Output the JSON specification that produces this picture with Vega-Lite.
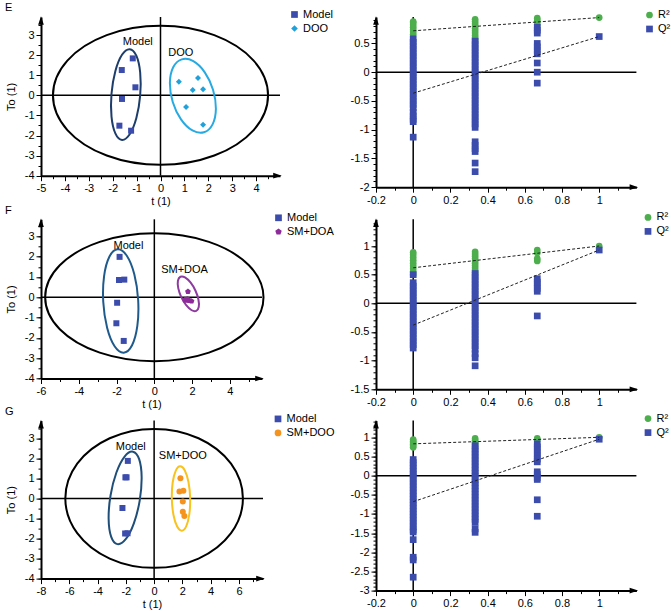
{
"$schema": "https://vega.github.io/schema/vega-lite/v6.json",
"padding": {"left": 5, "top": 2, "right": 0, "bottom": 0},
"config": {
 "font": "Liberation Sans",
 "view": {"stroke": null},
 "axis": {"domainColor": "#000", "domainWidth": 2, "tickColor": "#000", "tickWidth": 1, "labelColor": "#000", "labelFontSize": 11, "titleFontSize": 11, "titleFontWeight": "normal", "titleColor": "#000", "grid": false, "labelPadding": 2, "labelOverlap": false, "labelFlush": false, "labelBound": false},
 "axisX": {"titlePadding": 2},
 "axisY": {"titlePadding": 8},
 "title": {"fontSize": 11, "fontWeight": "normal", "anchor": "start", "frame": "group", "dx": -36, "dy": 8, "offset": 4, "color": "#000"}
},
"datasets": {
 "ePts": [
  {"x": -1.16, "y": 1.84, "g": "Model"}, {"x": -1.62, "y": 1.26, "g": "Model"}, {"x": -1.05, "y": 0.40, "g": "Model"}, {"x": -1.61, "y": -0.18, "g": "Model"}, {"x": -1.72, "y": -1.51, "g": "Model"}, {"x": -1.23, "y": -1.76, "g": "Model"},
  {"x": 0.77, "y": 0.68, "g": "DOO"}, {"x": 1.57, "y": 0.86, "g": "DOO"}, {"x": 1.35, "y": 0.26, "g": "DOO"}, {"x": 1.78, "y": 0.30, "g": "DOO"}, {"x": 1.07, "y": -0.58, "g": "DOO"}, {"x": 1.78, "y": -1.46, "g": "DOO"}
 ],
 "eEll": [
  {"e": "outer", "i": 0, "x": 4.5, "y": 0}, {"e": "outer", "i": 1, "x": 3.897, "y": 1.73}, {"e": "outer", "i": 2, "x": 2.25, "y": 2.996}, {"e": "outer", "i": 3, "x": 0, "y": 3.46}, {"e": "outer", "i": 4, "x": -2.25, "y": 2.996}, {"e": "outer", "i": 5, "x": -3.897, "y": 1.73}, {"e": "outer", "i": 6, "x": -4.5, "y": 0}, {"e": "outer", "i": 7, "x": -3.897, "y": -1.73}, {"e": "outer", "i": 8, "x": -2.25, "y": -2.996}, {"e": "outer", "i": 9, "x": 0, "y": -3.46}, {"e": "outer", "i": 10, "x": 2.25, "y": -2.996}, {"e": "outer", "i": 11, "x": 3.897, "y": -1.73},
  {"e": "Model", "i": 0, "x": -1.29, "y": 2.30}, {"e": "Model", "i": 1, "x": -1.011, "y": 1.977}, {"e": "Model", "i": 2, "x": -0.85, "y": 1.135}, {"e": "Model", "i": 3, "x": -0.85, "y": 0.0}, {"e": "Model", "i": 4, "x": -1.01, "y": -1.125}, {"e": "Model", "i": 5, "x": -1.289, "y": -1.937}, {"e": "Model", "i": 6, "x": -1.61, "y": -2.22}, {"e": "Model", "i": 7, "x": -1.889, "y": -1.897}, {"e": "Model", "i": 8, "x": -2.05, "y": -1.055}, {"e": "Model", "i": 9, "x": -2.05, "y": 0.08}, {"e": "Model", "i": 10, "x": -1.89, "y": 1.205}, {"e": "Model", "i": 11, "x": -1.611, "y": 2.017},
  {"e": "DOO", "i": 0, "x": 0.89, "y": 1.79}, {"e": "DOO", "i": 1, "x": 1.374, "y": 1.699}, {"e": "DOO", "i": 2, "x": 1.853, "y": 1.146}, {"e": "DOO", "i": 3, "x": 2.198, "y": 0.279}, {"e": "DOO", "i": 4, "x": 2.318, "y": -0.669}, {"e": "DOO", "i": 5, "x": 2.179, "y": -1.445}, {"e": "DOO", "i": 6, "x": 1.82, "y": -1.84}, {"e": "DOO", "i": 7, "x": 1.336, "y": -1.749}, {"e": "DOO", "i": 8, "x": 0.858, "y": -1.196}, {"e": "DOO", "i": 9, "x": 0.512, "y": -0.329}, {"e": "DOO", "i": 10, "x": 0.393, "y": 0.619}, {"e": "DOO", "i": 11, "x": 0.531, "y": 1.395}
 ],
 "eTxt": [{"x": -0.95, "y": 2.64, "t": "Model"}, {"x": 0.85, "y": 2.12, "t": "DOO"}],
 "fPts": [
  {"x": -1.84, "y": 1.99, "g": "Model"}, {"x": -1.87, "y": 0.85, "g": "Model"}, {"x": -1.59, "y": 0.87, "g": "Model"}, {"x": -1.97, "y": -0.27, "g": "Model"}, {"x": -2.01, "y": -1.28, "g": "Model"}, {"x": -1.62, "y": -2.15, "g": "Model"},
  {"x": 1.78, "y": 0.28, "g": "SM+DOA"}, {"x": 1.62, "y": -0.12, "g": "SM+DOA"}, {"x": 1.75, "y": -0.08, "g": "SM+DOA"}, {"x": 1.70, "y": -0.15, "g": "SM+DOA"}, {"x": 1.85, "y": -0.16, "g": "SM+DOA"}, {"x": 1.97, "y": -0.19, "g": "SM+DOA"}
 ],
 "fEll": [
  {"e": "outer", "i": 0, "x": 5.78, "y": 0}, {"e": "outer", "i": 1, "x": 5.006, "y": 1.575}, {"e": "outer", "i": 2, "x": 2.89, "y": 2.728}, {"e": "outer", "i": 3, "x": 0, "y": 3.15}, {"e": "outer", "i": 4, "x": -2.89, "y": 2.728}, {"e": "outer", "i": 5, "x": -5.006, "y": 1.575}, {"e": "outer", "i": 6, "x": -5.78, "y": 0}, {"e": "outer", "i": 7, "x": -5.006, "y": -1.575}, {"e": "outer", "i": 8, "x": -2.89, "y": -2.728}, {"e": "outer", "i": 9, "x": 0, "y": -3.15}, {"e": "outer", "i": 10, "x": 2.89, "y": -2.728}, {"e": "outer", "i": 11, "x": 5.006, "y": -1.575},
  {"e": "Model", "i": 0, "x": -1.94, "y": 2.36}, {"e": "Model", "i": 1, "x": -1.457, "y": 2.044}, {"e": "Model", "i": 2, "x": -1.06, "y": 1.131}, {"e": "Model", "i": 3, "x": -0.856, "y": -0.135}, {"e": "Model", "i": 4, "x": -0.90, "y": -1.414}, {"e": "Model", "i": 5, "x": -1.179, "y": -2.364}, {"e": "Model", "i": 6, "x": -1.62, "y": -2.73}, {"e": "Model", "i": 7, "x": -2.103, "y": -2.414}, {"e": "Model", "i": 8, "x": -2.50, "y": -1.50}, {"e": "Model", "i": 9, "x": -2.704, "y": -0.235}, {"e": "Model", "i": 10, "x": -2.66, "y": 1.044}, {"e": "Model", "i": 11, "x": -2.381, "y": 1.994},
  {"e": "SM+DOA", "i": 0, "x": 1.38, "y": 1.01}, {"e": "SM+DOA", "i": 1, "x": 1.623, "y": 0.979}, {"e": "SM+DOA", "i": 2, "x": 1.914, "y": 0.731}, {"e": "SM+DOA", "i": 3, "x": 2.174, "y": 0.333}, {"e": "SM+DOA", "i": 4, "x": 2.334, "y": -0.109}, {"e": "SM+DOA", "i": 5, "x": 2.351, "y": -0.476}, {"e": "SM+DOA", "i": 6, "x": 2.22, "y": -0.67}, {"e": "SM+DOA", "i": 7, "x": 1.977, "y": -0.639}, {"e": "SM+DOA", "i": 8, "x": 1.686, "y": -0.391}, {"e": "SM+DOA", "i": 9, "x": 1.426, "y": 0.007}, {"e": "SM+DOA", "i": 10, "x": 1.266, "y": 0.449}, {"e": "SM+DOA", "i": 11, "x": 1.249, "y": 0.816}
 ],
 "fTxt": [{"x": -1.37, "y": 2.53, "t": "Model"}, {"x": 1.60, "y": 1.34, "t": "SM+DOA"}],
 "gPts": [
  {"x": -1.86, "y": 1.87, "g": "Model"}, {"x": -2.03, "y": 1.05, "g": "Model"}, {"x": -1.95, "y": 1.05, "g": "Model"}, {"x": -2.24, "y": -0.48, "g": "Model"}, {"x": -2.05, "y": -1.75, "g": "Model"}, {"x": -1.88, "y": -1.74, "g": "Model"},
  {"x": 1.86, "y": 1.00, "g": "SM+DOO"}, {"x": 1.79, "y": 0.35, "g": "SM+DOO"}, {"x": 2.07, "y": 0.38, "g": "SM+DOO"}, {"x": 2.03, "y": -0.16, "g": "SM+DOO"}, {"x": 2.03, "y": -0.66, "g": "SM+DOO"}, {"x": 2.14, "y": -0.88, "g": "SM+DOO"}
 ],
 "gEll": [
  {"e": "outer", "i": 0, "x": 6.28, "y": 0}, {"e": "outer", "i": 1, "x": 5.439, "y": 1.733}, {"e": "outer", "i": 2, "x": 3.14, "y": 3.001}, {"e": "outer", "i": 3, "x": 0, "y": 3.465}, {"e": "outer", "i": 4, "x": -3.14, "y": 3.001}, {"e": "outer", "i": 5, "x": -5.439, "y": 1.733}, {"e": "outer", "i": 6, "x": -6.28, "y": 0}, {"e": "outer", "i": 7, "x": -5.439, "y": -1.733}, {"e": "outer", "i": 8, "x": -3.14, "y": -3.001}, {"e": "outer", "i": 9, "x": 0, "y": -3.465}, {"e": "outer", "i": 10, "x": 3.14, "y": -3.001}, {"e": "outer", "i": 11, "x": 5.439, "y": -1.733},
  {"e": "Model", "i": 0, "x": -1.50, "y": 2.33}, {"e": "Model", "i": 1, "x": -1.059, "y": 1.955}, {"e": "Model", "i": 2, "x": -0.883, "y": 1.063}, {"e": "Model", "i": 3, "x": -1.02, "y": -0.107}, {"e": "Model", "i": 4, "x": -1.433, "y": -1.242}, {"e": "Model", "i": 5, "x": -2.011, "y": -2.037}, {"e": "Model", "i": 6, "x": -2.60, "y": -2.28}, {"e": "Model", "i": 7, "x": -3.041, "y": -1.905}, {"e": "Model", "i": 8, "x": -3.217, "y": -1.013}, {"e": "Model", "i": 9, "x": -3.08, "y": 0.157}, {"e": "Model", "i": 10, "x": -2.667, "y": 1.292}, {"e": "Model", "i": 11, "x": -2.089, "y": 2.087},
  {"e": "SM+DOO", "i": 0, "x": 1.84, "y": 1.60}, {"e": "SM+DOO", "i": 1, "x": 2.172, "y": 1.395}, {"e": "SM+DOO", "i": 2, "x": 2.43, "y": 0.815}, {"e": "SM+DOO", "i": 3, "x": 2.547, "y": 0.015}, {"e": "SM+DOO", "i": 4, "x": 2.49, "y": -0.79}, {"e": "SM+DOO", "i": 5, "x": 2.276, "y": -1.385}, {"e": "SM+DOO", "i": 6, "x": 1.96, "y": -1.61}, {"e": "SM+DOO", "i": 7, "x": 1.629, "y": -1.405}, {"e": "SM+DOO", "i": 8, "x": 1.37, "y": -0.825}, {"e": "SM+DOO", "i": 9, "x": 1.253, "y": -0.025}, {"e": "SM+DOO", "i": 10, "x": 1.31, "y": 0.78}, {"e": "SM+DOO", "i": 11, "x": 1.525, "y": 1.375}
 ],
 "gTxt": [{"x": -1.65, "y": 2.54, "t": "Model"}, {"x": 2.03, "y": 2.13, "t": "SM+DOO"}],
 "eR": [
  {"x": 0, "v": 0.66, "s": "R²"}, {"x": 0, "v": 0.70, "s": "R²"}, {"x": 0, "v": 0.74, "s": "R²"}, {"x": 0, "v": 0.78, "s": "R²"}, {"x": 0, "v": 0.82, "s": "R²"}, {"x": 0, "v": 0.86, "s": "R²"}, {"x": 0, "v": 0.88, "s": "R²"},
  {"x": 0.333, "v": 0.56, "s": "R²"}, {"x": 0.333, "v": 0.60, "s": "R²"}, {"x": 0.333, "v": 0.64, "s": "R²"}, {"x": 0.333, "v": 0.68, "s": "R²"}, {"x": 0.333, "v": 0.72, "s": "R²"}, {"x": 0.333, "v": 0.76, "s": "R²"}, {"x": 0.333, "v": 0.80, "s": "R²"}, {"x": 0.333, "v": 0.84, "s": "R²"}, {"x": 0.333, "v": 0.88, "s": "R²"}, {"x": 0.333, "v": 0.92, "s": "R²"},
  {"x": 0.667, "v": 0.82, "s": "R²"}, {"x": 0.667, "v": 0.86, "s": "R²"}, {"x": 0.667, "v": 0.90, "s": "R²"}, {"x": 0.667, "v": 0.94, "s": "R²"},
  {"x": 1, "v": 0.95, "s": "R²"},
  {"x": 0, "v": 0.58, "s": "Q²"}, {"x": 0, "v": 0.52, "s": "Q²"}, {"x": 0, "v": 0.46, "s": "Q²"}, {"x": 0, "v": 0.40, "s": "Q²"}, {"x": 0, "v": 0.34, "s": "Q²"}, {"x": 0, "v": 0.28, "s": "Q²"}, {"x": 0, "v": 0.22, "s": "Q²"}, {"x": 0, "v": 0.16, "s": "Q²"}, {"x": 0, "v": 0.10, "s": "Q²"}, {"x": 0, "v": 0.04, "s": "Q²"}, {"x": 0, "v": -0.02, "s": "Q²"}, {"x": 0, "v": -0.08, "s": "Q²"}, {"x": 0, "v": -0.14, "s": "Q²"}, {"x": 0, "v": -0.20, "s": "Q²"}, {"x": 0, "v": -0.26, "s": "Q²"}, {"x": 0, "v": -0.32, "s": "Q²"}, {"x": 0, "v": -0.38, "s": "Q²"}, {"x": 0, "v": -0.44, "s": "Q²"}, {"x": 0, "v": -0.50, "s": "Q²"}, {"x": 0, "v": -0.56, "s": "Q²"}, {"x": 0, "v": -0.62, "s": "Q²"}, {"x": 0, "v": -0.70, "s": "Q²"}, {"x": 0, "v": -0.76, "s": "Q²"}, {"x": 0, "v": -0.82, "s": "Q²"}, {"x": 0, "v": -0.86, "s": "Q²"}, {"x": 0, "v": -1.13, "s": "Q²"},
  {"x": 0.333, "v": 0.54, "s": "Q²"}, {"x": 0.333, "v": 0.48, "s": "Q²"}, {"x": 0.333, "v": 0.42, "s": "Q²"}, {"x": 0.333, "v": 0.36, "s": "Q²"}, {"x": 0.333, "v": 0.30, "s": "Q²"}, {"x": 0.333, "v": 0.24, "s": "Q²"}, {"x": 0.333, "v": 0.18, "s": "Q²"}, {"x": 0.333, "v": 0.12, "s": "Q²"}, {"x": 0.333, "v": 0.06, "s": "Q²"}, {"x": 0.333, "v": 0.00, "s": "Q²"}, {"x": 0.333, "v": -0.06, "s": "Q²"}, {"x": 0.333, "v": -0.12, "s": "Q²"}, {"x": 0.333, "v": -0.18, "s": "Q²"}, {"x": 0.333, "v": -0.24, "s": "Q²"}, {"x": 0.333, "v": -0.30, "s": "Q²"}, {"x": 0.333, "v": -0.36, "s": "Q²"}, {"x": 0.333, "v": -0.42, "s": "Q²"}, {"x": 0.333, "v": -0.48, "s": "Q²"}, {"x": 0.333, "v": -0.54, "s": "Q²"}, {"x": 0.333, "v": -0.60, "s": "Q²"}, {"x": 0.333, "v": -0.66, "s": "Q²"}, {"x": 0.333, "v": -0.72, "s": "Q²"}, {"x": 0.333, "v": -0.78, "s": "Q²"}, {"x": 0.333, "v": -0.84, "s": "Q²"}, {"x": 0.333, "v": -0.90, "s": "Q²"}, {"x": 0.333, "v": -0.96, "s": "Q²"}, {"x": 0.333, "v": -1.21, "s": "Q²"}, {"x": 0.333, "v": -1.27, "s": "Q²"}, {"x": 0.333, "v": -1.33, "s": "Q²"}, {"x": 0.333, "v": -1.38, "s": "Q²"}, {"x": 0.333, "v": -1.58, "s": "Q²"}, {"x": 0.333, "v": -1.73, "s": "Q²"},
  {"x": 0.667, "v": 0.78, "s": "Q²"}, {"x": 0.667, "v": 0.73, "s": "Q²"}, {"x": 0.667, "v": 0.68, "s": "Q²"}, {"x": 0.667, "v": 0.50, "s": "Q²"}, {"x": 0.667, "v": 0.44, "s": "Q²"}, {"x": 0.667, "v": 0.38, "s": "Q²"}, {"x": 0.667, "v": 0.32, "s": "Q²"}, {"x": 0.667, "v": 0.16, "s": "Q²"}, {"x": 0.667, "v": 0.00, "s": "Q²"}, {"x": 0.667, "v": -0.19, "s": "Q²"},
  {"x": 1, "v": 0.62, "s": "Q²"}
 ],
 "eRL": [{"s": "R²", "x": 0, "v": 0.72}, {"s": "R²", "x": 1, "v": 0.95}, {"s": "Q²", "x": 0, "v": -0.365}, {"s": "Q²", "x": 1, "v": 0.62}],
 "fR": [
  {"x": 0, "v": 0.50, "s": "R²"}, {"x": 0, "v": 0.55, "s": "R²"}, {"x": 0, "v": 0.60, "s": "R²"}, {"x": 0, "v": 0.65, "s": "R²"}, {"x": 0, "v": 0.70, "s": "R²"}, {"x": 0, "v": 0.75, "s": "R²"}, {"x": 0, "v": 0.80, "s": "R²"}, {"x": 0, "v": 0.85, "s": "R²"}, {"x": 0, "v": 0.89, "s": "R²"},
  {"x": 0.333, "v": 0.54, "s": "R²"}, {"x": 0.333, "v": 0.58, "s": "R²"}, {"x": 0.333, "v": 0.62, "s": "R²"}, {"x": 0.333, "v": 0.66, "s": "R²"}, {"x": 0.333, "v": 0.70, "s": "R²"}, {"x": 0.333, "v": 0.74, "s": "R²"}, {"x": 0.333, "v": 0.78, "s": "R²"}, {"x": 0.333, "v": 0.82, "s": "R²"}, {"x": 0.333, "v": 0.86, "s": "R²"}, {"x": 0.333, "v": 0.90, "s": "R²"},
  {"x": 0.667, "v": 0.74, "s": "R²"}, {"x": 0.667, "v": 0.78, "s": "R²"}, {"x": 0.667, "v": 0.88, "s": "R²"}, {"x": 0.667, "v": 0.93, "s": "R²"},
  {"x": 1, "v": 1.0, "s": "R²"},
  {"x": 0, "v": 0.50, "s": "Q²"}, {"x": 0, "v": 0.36, "s": "Q²"}, {"x": 0, "v": 0.30, "s": "Q²"}, {"x": 0, "v": 0.24, "s": "Q²"}, {"x": 0, "v": 0.18, "s": "Q²"}, {"x": 0, "v": 0.12, "s": "Q²"}, {"x": 0, "v": 0.06, "s": "Q²"}, {"x": 0, "v": 0.00, "s": "Q²"}, {"x": 0, "v": -0.06, "s": "Q²"}, {"x": 0, "v": -0.12, "s": "Q²"}, {"x": 0, "v": -0.18, "s": "Q²"}, {"x": 0, "v": -0.24, "s": "Q²"}, {"x": 0, "v": -0.30, "s": "Q²"}, {"x": 0, "v": -0.36, "s": "Q²"}, {"x": 0, "v": -0.42, "s": "Q²"}, {"x": 0, "v": -0.48, "s": "Q²"}, {"x": 0, "v": -0.54, "s": "Q²"}, {"x": 0, "v": -0.60, "s": "Q²"}, {"x": 0, "v": -0.66, "s": "Q²"}, {"x": 0, "v": -0.72, "s": "Q²"}, {"x": 0, "v": -0.78, "s": "Q²"},
  {"x": 0.333, "v": 0.52, "s": "Q²"}, {"x": 0.333, "v": 0.46, "s": "Q²"}, {"x": 0.333, "v": 0.40, "s": "Q²"}, {"x": 0.333, "v": 0.34, "s": "Q²"}, {"x": 0.333, "v": 0.28, "s": "Q²"}, {"x": 0.333, "v": 0.22, "s": "Q²"}, {"x": 0.333, "v": 0.16, "s": "Q²"}, {"x": 0.333, "v": 0.10, "s": "Q²"}, {"x": 0.333, "v": 0.04, "s": "Q²"}, {"x": 0.333, "v": -0.02, "s": "Q²"}, {"x": 0.333, "v": -0.08, "s": "Q²"}, {"x": 0.333, "v": -0.14, "s": "Q²"}, {"x": 0.333, "v": -0.20, "s": "Q²"}, {"x": 0.333, "v": -0.26, "s": "Q²"}, {"x": 0.333, "v": -0.32, "s": "Q²"}, {"x": 0.333, "v": -0.38, "s": "Q²"}, {"x": 0.333, "v": -0.44, "s": "Q²"}, {"x": 0.333, "v": -0.50, "s": "Q²"}, {"x": 0.333, "v": -0.56, "s": "Q²"}, {"x": 0.333, "v": -0.62, "s": "Q²"}, {"x": 0.333, "v": -0.68, "s": "Q²"}, {"x": 0.333, "v": -0.74, "s": "Q²"}, {"x": 0.333, "v": -0.80, "s": "Q²"}, {"x": 0.333, "v": -0.88, "s": "Q²"}, {"x": 0.333, "v": -0.95, "s": "Q²"}, {"x": 0.333, "v": -1.09, "s": "Q²"},
  {"x": 0.667, "v": 0.43, "s": "Q²"}, {"x": 0.667, "v": 0.37, "s": "Q²"}, {"x": 0.667, "v": 0.32, "s": "Q²"}, {"x": 0.667, "v": 0.26, "s": "Q²"}, {"x": 0.667, "v": 0.21, "s": "Q²"}, {"x": 0.667, "v": -0.22, "s": "Q²"},
  {"x": 1, "v": 0.93, "s": "Q²"}
 ],
 "fRL": [{"s": "R²", "x": 0, "v": 0.62}, {"s": "R²", "x": 1, "v": 1.0}, {"s": "Q²", "x": 0, "v": -0.38}, {"s": "Q²", "x": 1, "v": 0.93}],
 "gR": [
  {"x": 0, "v": 0.74, "s": "R²"}, {"x": 0, "v": 0.78, "s": "R²"}, {"x": 0, "v": 0.82, "s": "R²"}, {"x": 0, "v": 0.86, "s": "R²"}, {"x": 0, "v": 0.90, "s": "R²"}, {"x": 0, "v": 0.94, "s": "R²"},
  {"x": 0.333, "v": 0.82, "s": "R²"}, {"x": 0.333, "v": 0.87, "s": "R²"}, {"x": 0.333, "v": 0.92, "s": "R²"}, {"x": 0.333, "v": 0.97, "s": "R²"},
  {"x": 0.667, "v": 0.93, "s": "R²"}, {"x": 0.667, "v": 0.97, "s": "R²"},
  {"x": 1, "v": 1.0, "s": "R²"},
  {"x": 0, "v": 0.42, "s": "Q²"}, {"x": 0, "v": 0.34, "s": "Q²"}, {"x": 0, "v": 0.26, "s": "Q²"}, {"x": 0, "v": 0.18, "s": "Q²"}, {"x": 0, "v": 0.10, "s": "Q²"}, {"x": 0, "v": 0.02, "s": "Q²"}, {"x": 0, "v": -0.06, "s": "Q²"}, {"x": 0, "v": -0.14, "s": "Q²"}, {"x": 0, "v": -0.22, "s": "Q²"}, {"x": 0, "v": -0.30, "s": "Q²"}, {"x": 0, "v": -0.38, "s": "Q²"}, {"x": 0, "v": -0.46, "s": "Q²"}, {"x": 0, "v": -0.54, "s": "Q²"}, {"x": 0, "v": -0.62, "s": "Q²"}, {"x": 0, "v": -0.70, "s": "Q²"}, {"x": 0, "v": -0.78, "s": "Q²"}, {"x": 0, "v": -0.86, "s": "Q²"}, {"x": 0, "v": -0.94, "s": "Q²"}, {"x": 0, "v": -1.02, "s": "Q²"}, {"x": 0, "v": -1.10, "s": "Q²"}, {"x": 0, "v": -1.18, "s": "Q²"}, {"x": 0, "v": -1.26, "s": "Q²"}, {"x": 0, "v": -1.34, "s": "Q²"}, {"x": 0, "v": -1.42, "s": "Q²"}, {"x": 0, "v": -1.47, "s": "Q²"}, {"x": 0, "v": -1.67, "s": "Q²"}, {"x": 0, "v": -2.13, "s": "Q²"}, {"x": 0, "v": -2.20, "s": "Q²"}, {"x": 0, "v": -2.65, "s": "Q²"},
  {"x": 0.333, "v": 0.78, "s": "Q²"}, {"x": 0.333, "v": 0.70, "s": "Q²"}, {"x": 0.333, "v": 0.62, "s": "Q²"}, {"x": 0.333, "v": 0.54, "s": "Q²"}, {"x": 0.333, "v": 0.46, "s": "Q²"}, {"x": 0.333, "v": 0.38, "s": "Q²"}, {"x": 0.333, "v": 0.30, "s": "Q²"}, {"x": 0.333, "v": 0.22, "s": "Q²"}, {"x": 0.333, "v": 0.14, "s": "Q²"}, {"x": 0.333, "v": 0.06, "s": "Q²"}, {"x": 0.333, "v": -0.02, "s": "Q²"}, {"x": 0.333, "v": -0.10, "s": "Q²"}, {"x": 0.333, "v": -0.18, "s": "Q²"}, {"x": 0.333, "v": -0.26, "s": "Q²"}, {"x": 0.333, "v": -0.34, "s": "Q²"}, {"x": 0.333, "v": -0.42, "s": "Q²"}, {"x": 0.333, "v": -0.50, "s": "Q²"}, {"x": 0.333, "v": -0.58, "s": "Q²"}, {"x": 0.333, "v": -0.66, "s": "Q²"}, {"x": 0.333, "v": -0.74, "s": "Q²"}, {"x": 0.333, "v": -0.82, "s": "Q²"}, {"x": 0.333, "v": -0.90, "s": "Q²"}, {"x": 0.333, "v": -0.98, "s": "Q²"}, {"x": 0.333, "v": -1.06, "s": "Q²"}, {"x": 0.333, "v": -1.14, "s": "Q²"}, {"x": 0.333, "v": -1.22, "s": "Q²"}, {"x": 0.333, "v": -1.39, "s": "Q²"}, {"x": 0.333, "v": -1.48, "s": "Q²"},
  {"x": 0.667, "v": 0.83, "s": "Q²"}, {"x": 0.667, "v": 0.75, "s": "Q²"}, {"x": 0.667, "v": 0.67, "s": "Q²"}, {"x": 0.667, "v": 0.59, "s": "Q²"}, {"x": 0.667, "v": 0.51, "s": "Q²"}, {"x": 0.667, "v": 0.43, "s": "Q²"}, {"x": 0.667, "v": 0.36, "s": "Q²"}, {"x": 0.667, "v": 0.10, "s": "Q²"}, {"x": 0.667, "v": 0.03, "s": "Q²"}, {"x": 0.667, "v": -0.05, "s": "Q²"}, {"x": 0.667, "v": -0.10, "s": "Q²"}, {"x": 0.667, "v": -0.63, "s": "Q²"}, {"x": 0.667, "v": -1.06, "s": "Q²"},
  {"x": 1, "v": 0.95, "s": "Q²"}
 ],
 "gRL": [{"s": "R²", "x": 0, "v": 0.83}, {"s": "R²", "x": 1, "v": 1.0}, {"s": "Q²", "x": 0, "v": -0.68}, {"s": "Q²", "x": 1, "v": 0.95}]
},
"columns": 2,
"bounds": "flush",
"align": "each",
"spacing": {"row": 31.3, "column": 96},
"resolve": {"scale": {"color": "independent", "shape": "independent", "stroke": "independent"}, "legend": {"color": "independent", "shape": "independent"}},
"concat": [
 {
  "width": 239, "height": 158.7,
  "title": {"text": "E"},
  "resolve": {"axis": {"x": "independent", "y": "independent"}},
  "layer": [
   {"data": {"values": [{}]}, "mark": {"type": "rule", "color": "#000", "strokeWidth": 1.5}, "encoding": {"x": {"datum": 0, "type": "quantitative", "title": null, "scale": {"domain": [-5, 5], "nice": false, "zero": false}, "axis": {"orient": "bottom", "values": [-5, -4.5, -4, -3.5, -3, -2.5, -2, -1.5, -1, -0.5, 0, 0.5, 1, 1.5, 2, 2.5, 3, 3.5, 4, 4.5], "labels": false, "domain": false, "tickSize": 3}}}},
   {"data": {"values": [{}]}, "mark": {"type": "rule", "color": "#000", "strokeWidth": 1.5}, "encoding": {"y": {"datum": 0, "type": "quantitative", "title": null, "scale": {"domain": [-4, 3.9], "nice": false, "zero": false}, "axis": {"orient": "left", "values": [-4, -3.5, -3, -2.5, -2, -1.5, -1, -0.5, 0, 0.5, 1, 1.5, 2, 2.5, 3, 3.5], "labels": false, "domain": false, "tickSize": 3}}}},
   {"data": {"name": "eEll"}, "mark": {"type": "line", "interpolate": "cardinal-closed", "strokeWidth": 2},
    "encoding": {"x": {"field": "x", "type": "quantitative", "scale": {"domain": [-5, 5], "nice": false, "zero": false}, "axis": null},
     "y": {"field": "y", "type": "quantitative", "scale": {"domain": [-4, 3.9], "nice": false, "zero": false}, "axis": null},
     "order": {"field": "i"}, "detail": {"field": "e"},
     "stroke": {"field": "e", "type": "nominal", "scale": {"domain": ["outer", "Model", "DOO"], "range": ["#000000", "#1d3d6b", "#27aae1"]}, "legend": null}}},
   {"data": {"name": "ePts"}, "mark": {"type": "point", "filled": true, "size": 36, "opacity": 1},
    "encoding": {
     "x": {"field": "x", "type": "quantitative", "title": "t (1)", "scale": {"domain": [-5, 5], "nice": false, "zero": false},
      "axis": {"orient": "bottom", "labelOverlap": false, "values": [-5, -4, -3, -2, -1, 0, 1, 2, 3, 4], "labelExpr": "datum.value + ''", "tickSize": 5}},
     "y": {"field": "y", "type": "quantitative", "title": "To (1)", "scale": {"domain": [-4, 3.9], "nice": false, "zero": false},
      "axis": {"orient": "left", "labelOverlap": false, "values": [-4, -3, -2, -1, 0, 1, 2, 3], "labelExpr": "datum.value + ''", "tickSize": 5}},
     "color": {"field": "g", "type": "nominal", "scale": {"domain": ["Model", "DOO"], "range": ["#3b4cad", "#1fa2dc"]}, "legend": {"title": null, "orient": "none", "legendX": 248, "legendY": -8, "padding": 0, "labelFontSize": 11, "labelColor": "#000", "symbolSize": 45, "labelOffset": 3, "rowPadding": 2}},
     "shape": {"field": "g", "type": "nominal", "scale": {"domain": ["Model", "DOO"], "range": ["square", "diamond"]}, "legend": {"title": null, "orient": "none", "legendX": 248, "legendY": -8, "padding": 0, "labelFontSize": 11, "labelColor": "#000", "symbolSize": 45, "labelOffset": 3, "rowPadding": 2}}
    }},
   {"data": {"name": "eTxt"}, "mark": {"type": "text", "fontSize": 11, "color": "#000"},
    "encoding": {"x": {"field": "x", "type": "quantitative", "scale": {"domain": [-5, 5], "nice": false, "zero": false}, "axis": null}, "y": {"field": "y", "type": "quantitative", "scale": {"domain": [-4, 3.9], "nice": false, "zero": false}, "axis": null}, "text": {"field": "t"}}},
   {"data": {"values": [{}]}, "mark": {"type": "point", "shape": "M0,-1L0.6,0.8L-0.6,0.8Z", "filled": true, "color": "#000", "opacity": 1, "size": 90, "yOffset": 4},
    "encoding": {"x": {"datum": -5, "type": "quantitative", "scale": {"domain": [-5, 5], "nice": false, "zero": false}, "axis": null}, "y": {"datum": 3.9, "type": "quantitative", "scale": {"domain": [-4, 3.9], "nice": false, "zero": false}, "axis": null}}},
   {"data": {"values": [{}]}, "mark": {"type": "point", "shape": "M1,0L-0.8,0.6L-0.8,-0.6Z", "filled": true, "color": "#000", "opacity": 1, "size": 90, "xOffset": -3},
    "encoding": {"x": {"datum": 5, "type": "quantitative", "scale": {"domain": [-5, 5], "nice": false, "zero": false}, "axis": null}, "y": {"datum": -4, "type": "quantitative", "scale": {"domain": [-4, 3.9], "nice": false, "zero": false}, "axis": null}}}
  ]
 },
 {
  "width": 260.4, "height": 170.2,
  "resolve": {"axis": {"x": "independent", "y": "independent"}},
  "layer": [
   {"data": {"values": [{}]}, "mark": {"type": "rule", "color": "#000", "strokeWidth": 1.5}, "encoding": {"x": {"datum": 0, "type": "quantitative", "title": null, "scale": {"domain": [-0.2, 1.2], "nice": false, "zero": false}, "axis": {"orient": "bottom", "values": [-0.2, -0.1, 0, 0.1, 0.2, 0.3, 0.4, 0.5, 0.6, 0.7, 0.8, 0.9, 1, 1.1], "labels": false, "domain": false, "tickSize": 3}}}},
   {"data": {"values": [{}]}, "mark": {"type": "rule", "color": "#000", "strokeWidth": 1.5}, "encoding": {"y": {"datum": 0, "type": "quantitative", "title": null, "scale": {"domain": [-2, 0.96], "nice": false, "zero": false}, "axis": {"orient": "left", "values": [-2, -1.9, -1.8, -1.7, -1.6, -1.5, -1.4, -1.3, -1.2, -1.1, -1, -0.9, -0.8, -0.7, -0.6, -0.5, -0.4, -0.3, -0.2, -0.1, 0, 0.1, 0.2, 0.3, 0.4, 0.5, 0.6, 0.7, 0.8, 0.9], "labels": false, "domain": false, "tickSize": 3}}}},
   {"data": {"name": "eR"}, "mark": {"type": "point", "filled": true, "size": 45, "opacity": 1},
    "encoding": {
     "x": {"field": "x", "type": "quantitative", "title": null, "scale": {"domain": [-0.2, 1.2], "nice": false, "zero": false},
      "axis": {"orient": "bottom", "labelOverlap": false, "values": [-0.2, 0, 0.2, 0.4, 0.6, 0.8, 1], "labelExpr": "datum.value + ''", "tickSize": 5}},
     "y": {"field": "v", "type": "quantitative", "title": null, "scale": {"domain": [-2, 0.96], "nice": false, "zero": false},
      "axis": {"orient": "left", "labelOverlap": false, "values": [-2, -1.5, -1, -0.5, 0, 0.5], "labelExpr": "datum.value + ''", "tickSize": 5}},
     "color": {"field": "s", "type": "nominal", "scale": {"domain": ["R²", "Q²"], "range": ["#4cae4c", "#3b4cad"]}, "legend": {"title": null, "orient": "none", "legendX": 268, "legendY": -7.5, "padding": 0, "labelFontSize": 11, "labelColor": "#000", "symbolSize": 45, "labelOffset": 3, "rowPadding": 2}},
     "shape": {"field": "s", "type": "nominal", "scale": {"domain": ["R²", "Q²"], "range": ["circle", "square"]}, "legend": {"title": null, "orient": "none", "legendX": 268, "legendY": -7.5, "padding": 0, "labelFontSize": 11, "labelColor": "#000", "symbolSize": 45, "labelOffset": 3, "rowPadding": 2}}
    }},
   {"data": {"name": "eRL"}, "mark": {"type": "line", "color": "#222", "strokeWidth": 1, "strokeDash": [3, 2]},
    "encoding": {"x": {"field": "x", "type": "quantitative", "scale": {"domain": [-0.2, 1.2], "nice": false, "zero": false}, "axis": null}, "y": {"field": "v", "type": "quantitative", "scale": {"domain": [-2, 0.96], "nice": false, "zero": false}, "axis": null}, "detail": {"field": "s"}}},
   {"data": {"values": [{}]}, "mark": {"type": "point", "shape": "M0,-1L0.6,0.8L-0.6,0.8Z", "filled": true, "color": "#000", "opacity": 1, "size": 90, "yOffset": 4},
    "encoding": {"x": {"datum": -0.2, "type": "quantitative", "scale": {"domain": [-0.2, 1.2], "nice": false, "zero": false}, "axis": null}, "y": {"datum": 0.96, "type": "quantitative", "scale": {"domain": [-2, 0.96], "nice": false, "zero": false}, "axis": null}}},
   {"data": {"values": [{}]}, "mark": {"type": "point", "shape": "M1,0L-0.8,0.6L-0.8,-0.6Z", "filled": true, "color": "#000", "opacity": 1, "size": 90, "xOffset": -3},
    "encoding": {"x": {"datum": 1.2, "type": "quantitative", "scale": {"domain": [-0.2, 1.2], "nice": false, "zero": false}, "axis": null}, "y": {"datum": -2, "type": "quantitative", "scale": {"domain": [-2, 0.96], "nice": false, "zero": false}, "axis": null}}}
  ]
 },
 {
  "width": 221, "height": 159.2,
  "title": {"text": "F"},
  "resolve": {"axis": {"x": "independent", "y": "independent"}},
  "layer": [
   {"data": {"values": [{}]}, "mark": {"type": "rule", "color": "#000", "strokeWidth": 1.5}, "encoding": {"x": {"datum": 0, "type": "quantitative", "title": null, "scale": {"domain": [-6, 5.7], "nice": false, "zero": false}, "axis": {"orient": "bottom", "values": [-6, -5, -4, -3, -2, -1, 0, 1, 2, 3, 4, 5], "labels": false, "domain": false, "tickSize": 3}}}},
   {"data": {"values": [{}]}, "mark": {"type": "rule", "color": "#000", "strokeWidth": 1.5}, "encoding": {"y": {"datum": 0, "type": "quantitative", "title": null, "scale": {"domain": [-4, 3.84], "nice": false, "zero": false}, "axis": {"orient": "left", "values": [-4, -3.5, -3, -2.5, -2, -1.5, -1, -0.5, 0, 0.5, 1, 1.5, 2, 2.5, 3, 3.5], "labels": false, "domain": false, "tickSize": 3}}}},
   {"data": {"name": "fEll"}, "mark": {"type": "line", "interpolate": "cardinal-closed", "strokeWidth": 2},
    "encoding": {"x": {"field": "x", "type": "quantitative", "scale": {"domain": [-6, 5.7], "nice": false, "zero": false}, "axis": null},
     "y": {"field": "y", "type": "quantitative", "scale": {"domain": [-4, 3.84], "nice": false, "zero": false}, "axis": null},
     "order": {"field": "i"}, "detail": {"field": "e"},
     "stroke": {"field": "e", "type": "nominal", "scale": {"domain": ["outer", "Model", "SM+DOA"], "range": ["#000000", "#1f5a8c", "#8e3ba0"]}, "legend": null}}},
   {"data": {"name": "fPts"}, "mark": {"type": "point", "filled": true, "size": 36, "opacity": 1},
    "encoding": {
     "x": {"field": "x", "type": "quantitative", "title": "t (1)", "scale": {"domain": [-6, 5.7], "nice": false, "zero": false},
      "axis": {"orient": "bottom", "labelOverlap": false, "values": [-6, -4, -2, 0, 2, 4], "labelExpr": "datum.value + ''", "tickSize": 5}},
     "y": {"field": "y", "type": "quantitative", "title": "To (1)", "scale": {"domain": [-4, 3.84], "nice": false, "zero": false},
      "axis": {"orient": "left", "labelOverlap": false, "values": [-4, -3, -2, -1, 0, 1, 2, 3], "labelExpr": "datum.value + ''", "tickSize": 5}},
     "color": {"field": "g", "type": "nominal", "scale": {"domain": ["Model", "SM+DOA"], "range": ["#3b4cad", "#8e2b9a"]}, "legend": {"title": null, "orient": "none", "legendX": 232, "legendY": -7, "padding": 0, "labelFontSize": 11, "labelColor": "#000", "symbolSize": 45, "labelOffset": 3, "rowPadding": 2}},
     "shape": {"field": "g", "type": "nominal", "scale": {"domain": ["Model", "SM+DOA"], "range": ["square", "M0,-1L0.951,-0.309L0.588,0.809L-0.588,0.809L-0.951,-0.309Z"]}, "legend": {"title": null, "orient": "none", "legendX": 232, "legendY": -7, "padding": 0, "labelFontSize": 11, "labelColor": "#000", "symbolSize": 45, "labelOffset": 3, "rowPadding": 2}}
    }},
   {"data": {"name": "fTxt"}, "mark": {"type": "text", "fontSize": 11, "color": "#000"},
    "encoding": {"x": {"field": "x", "type": "quantitative", "scale": {"domain": [-6, 5.7], "nice": false, "zero": false}, "axis": null}, "y": {"field": "y", "type": "quantitative", "scale": {"domain": [-4, 3.84], "nice": false, "zero": false}, "axis": null}, "text": {"field": "t"}}},
   {"data": {"values": [{}]}, "mark": {"type": "point", "shape": "M0,-1L0.6,0.8L-0.6,0.8Z", "filled": true, "color": "#000", "opacity": 1, "size": 90, "yOffset": 4},
    "encoding": {"x": {"datum": -6, "type": "quantitative", "scale": {"domain": [-6, 5.7], "nice": false, "zero": false}, "axis": null}, "y": {"datum": 3.84, "type": "quantitative", "scale": {"domain": [-4, 3.84], "nice": false, "zero": false}, "axis": null}}},
   {"data": {"values": [{}]}, "mark": {"type": "point", "shape": "M1,0L-0.8,0.6L-0.8,-0.6Z", "filled": true, "color": "#000", "opacity": 1, "size": 90, "xOffset": -3},
    "encoding": {"x": {"datum": 5.7, "type": "quantitative", "scale": {"domain": [-6, 5.7], "nice": false, "zero": false}, "axis": null}, "y": {"datum": -4, "type": "quantitative", "scale": {"domain": [-4, 3.84], "nice": false, "zero": false}, "axis": null}}}
  ]
 },
 {
  "width": 260.4, "height": 170,
  "resolve": {"axis": {"x": "independent", "y": "independent"}},
  "layer": [
   {"data": {"values": [{}]}, "mark": {"type": "rule", "color": "#000", "strokeWidth": 1.5}, "encoding": {"x": {"datum": 0, "type": "quantitative", "title": null, "scale": {"domain": [-0.2, 1.2], "nice": false, "zero": false}, "axis": {"orient": "bottom", "values": [-0.2, -0.1, 0, 0.1, 0.2, 0.3, 0.4, 0.5, 0.6, 0.7, 0.8, 0.9, 1, 1.1], "labels": false, "domain": false, "tickSize": 3}}}},
   {"data": {"values": [{}]}, "mark": {"type": "rule", "color": "#000", "strokeWidth": 1.5}, "encoding": {"y": {"datum": 0, "type": "quantitative", "title": null, "scale": {"domain": [-1.5, 1.466], "nice": false, "zero": false}, "axis": {"orient": "left", "values": [-1.5, -1.4, -1.3, -1.2, -1.1, -1, -0.9, -0.8, -0.7, -0.6, -0.5, -0.4, -0.3, -0.2, -0.1, 0, 0.1, 0.2, 0.3, 0.4, 0.5, 0.6, 0.7, 0.8, 0.9, 1, 1.1, 1.2, 1.3, 1.4], "labels": false, "domain": false, "tickSize": 3}}}},
   {"data": {"name": "fR"}, "mark": {"type": "point", "filled": true, "size": 45, "opacity": 1},
    "encoding": {
     "x": {"field": "x", "type": "quantitative", "title": null, "scale": {"domain": [-0.2, 1.2], "nice": false, "zero": false},
      "axis": {"orient": "bottom", "labelOverlap": false, "values": [-0.2, 0, 0.2, 0.4, 0.6, 0.8, 1], "labelExpr": "datum.value + ''", "tickSize": 5}},
     "y": {"field": "v", "type": "quantitative", "title": null, "scale": {"domain": [-1.5, 1.466], "nice": false, "zero": false},
      "axis": {"orient": "left", "labelOverlap": false, "values": [-1.5, -1, -0.5, 0, 0.5, 1], "labelExpr": "datum.value + ''", "tickSize": 5}},
     "color": {"field": "s", "type": "nominal", "scale": {"domain": ["R²", "Q²"], "range": ["#4cae4c", "#3b4cad"]}, "legend": {"title": null, "orient": "none", "legendX": 266.5, "legendY": -7.4, "padding": 0, "labelFontSize": 11, "labelColor": "#000", "symbolSize": 45, "labelOffset": 3, "rowPadding": 2}},
     "shape": {"field": "s", "type": "nominal", "scale": {"domain": ["R²", "Q²"], "range": ["circle", "square"]}, "legend": {"title": null, "orient": "none", "legendX": 266.5, "legendY": -7.4, "padding": 0, "labelFontSize": 11, "labelColor": "#000", "symbolSize": 45, "labelOffset": 3, "rowPadding": 2}}
    }},
   {"data": {"name": "fRL"}, "mark": {"type": "line", "color": "#222", "strokeWidth": 1, "strokeDash": [3, 2]},
    "encoding": {"x": {"field": "x", "type": "quantitative", "scale": {"domain": [-0.2, 1.2], "nice": false, "zero": false}, "axis": null}, "y": {"field": "v", "type": "quantitative", "scale": {"domain": [-1.5, 1.466], "nice": false, "zero": false}, "axis": null}, "detail": {"field": "s"}}},
   {"data": {"values": [{}]}, "mark": {"type": "point", "shape": "M0,-1L0.6,0.8L-0.6,0.8Z", "filled": true, "color": "#000", "opacity": 1, "size": 90, "yOffset": 4},
    "encoding": {"x": {"datum": -0.2, "type": "quantitative", "scale": {"domain": [-0.2, 1.2], "nice": false, "zero": false}, "axis": null}, "y": {"datum": 1.466, "type": "quantitative", "scale": {"domain": [-1.5, 1.466], "nice": false, "zero": false}, "axis": null}}},
   {"data": {"values": [{}]}, "mark": {"type": "point", "shape": "M1,0L-0.8,0.6L-0.8,-0.6Z", "filled": true, "color": "#000", "opacity": 1, "size": 90, "xOffset": -3},
    "encoding": {"x": {"datum": 1.2, "type": "quantitative", "scale": {"domain": [-0.2, 1.2], "nice": false, "zero": false}, "axis": null}, "y": {"datum": -1.5, "type": "quantitative", "scale": {"domain": [-1.5, 1.466], "nice": false, "zero": false}, "axis": null}}}
  ]
 },
 {
  "width": 222, "height": 158,
  "title": {"text": "G"},
  "resolve": {"axis": {"x": "independent", "y": "independent"}},
  "layer": [
   {"data": {"values": [{}]}, "mark": {"type": "rule", "color": "#000", "strokeWidth": 1.5}, "encoding": {"x": {"datum": 0, "type": "quantitative", "title": null, "scale": {"domain": [-8, 7.7], "nice": false, "zero": false}, "axis": {"orient": "bottom", "values": [-8, -7, -6, -5, -4, -3, -2, -1, 0, 1, 2, 3, 4, 5, 6, 7], "labels": false, "domain": false, "tickSize": 3}}}},
   {"data": {"values": [{}]}, "mark": {"type": "rule", "color": "#000", "strokeWidth": 1.5}, "encoding": {"y": {"datum": 0, "type": "quantitative", "title": null, "scale": {"domain": [-4, 3.88], "nice": false, "zero": false}, "axis": {"orient": "left", "values": [-4, -3.5, -3, -2.5, -2, -1.5, -1, -0.5, 0, 0.5, 1, 1.5, 2, 2.5, 3, 3.5], "labels": false, "domain": false, "tickSize": 3}}}},
   {"data": {"name": "gEll"}, "mark": {"type": "line", "interpolate": "cardinal-closed", "strokeWidth": 2},
    "encoding": {"x": {"field": "x", "type": "quantitative", "scale": {"domain": [-8, 7.7], "nice": false, "zero": false}, "axis": null},
     "y": {"field": "y", "type": "quantitative", "scale": {"domain": [-4, 3.88], "nice": false, "zero": false}, "axis": null},
     "order": {"field": "i"}, "detail": {"field": "e"},
     "stroke": {"field": "e", "type": "nominal", "scale": {"domain": ["outer", "Model", "SM+DOO"], "range": ["#000000", "#1f4e79", "#f9c31f"]}, "legend": null}}},
   {"data": {"name": "gPts"}, "mark": {"type": "point", "filled": true, "size": 36, "opacity": 1},
    "encoding": {
     "x": {"field": "x", "type": "quantitative", "title": "t (1)", "scale": {"domain": [-8, 7.7], "nice": false, "zero": false},
      "axis": {"orient": "bottom", "labelOverlap": false, "values": [-8, -6, -4, -2, 0, 2, 4, 6], "labelExpr": "datum.value + ''", "tickSize": 5}},
     "y": {"field": "y", "type": "quantitative", "title": "To (1)", "scale": {"domain": [-4, 3.88], "nice": false, "zero": false},
      "axis": {"orient": "left", "labelOverlap": false, "values": [-4, -3, -2, -1, 0, 1, 2, 3], "labelExpr": "datum.value + ''", "tickSize": 5}},
     "color": {"field": "g", "type": "nominal", "scale": {"domain": ["Model", "SM+DOO"], "range": ["#3b4cad", "#f5931f"]}, "legend": {"title": null, "orient": "none", "legendX": 231.5, "legendY": -7.2, "padding": 0, "labelFontSize": 11, "labelColor": "#000", "symbolSize": 45, "labelOffset": 3, "rowPadding": 2}},
     "shape": {"field": "g", "type": "nominal", "scale": {"domain": ["Model", "SM+DOO"], "range": ["square", "circle"]}, "legend": {"title": null, "orient": "none", "legendX": 231.5, "legendY": -7.2, "padding": 0, "labelFontSize": 11, "labelColor": "#000", "symbolSize": 45, "labelOffset": 3, "rowPadding": 2}}
    }},
   {"data": {"name": "gTxt"}, "mark": {"type": "text", "fontSize": 11, "color": "#000"},
    "encoding": {"x": {"field": "x", "type": "quantitative", "scale": {"domain": [-8, 7.7], "nice": false, "zero": false}, "axis": null}, "y": {"field": "y", "type": "quantitative", "scale": {"domain": [-4, 3.88], "nice": false, "zero": false}, "axis": null}, "text": {"field": "t"}}},
   {"data": {"values": [{}]}, "mark": {"type": "point", "shape": "M0,-1L0.6,0.8L-0.6,0.8Z", "filled": true, "color": "#000", "opacity": 1, "size": 90, "yOffset": 4},
    "encoding": {"x": {"datum": -8, "type": "quantitative", "scale": {"domain": [-8, 7.7], "nice": false, "zero": false}, "axis": null}, "y": {"datum": 3.88, "type": "quantitative", "scale": {"domain": [-4, 3.88], "nice": false, "zero": false}, "axis": null}}},
   {"data": {"values": [{}]}, "mark": {"type": "point", "shape": "M1,0L-0.8,0.6L-0.8,-0.6Z", "filled": true, "color": "#000", "opacity": 1, "size": 90, "xOffset": -3},
    "encoding": {"x": {"datum": 7.7, "type": "quantitative", "scale": {"domain": [-8, 7.7], "nice": false, "zero": false}, "axis": null}, "y": {"datum": -4, "type": "quantitative", "scale": {"domain": [-4, 3.88], "nice": false, "zero": false}, "axis": null}}}
  ]
 },
 {
  "width": 260.4, "height": 170,
  "resolve": {"axis": {"x": "independent", "y": "independent"}},
  "layer": [
   {"data": {"values": [{}]}, "mark": {"type": "rule", "color": "#000", "strokeWidth": 1.5}, "encoding": {"x": {"datum": 0, "type": "quantitative", "title": null, "scale": {"domain": [-0.2, 1.2], "nice": false, "zero": false}, "axis": {"orient": "bottom", "values": [-0.2, -0.1, 0, 0.1, 0.2, 0.3, 0.4, 0.5, 0.6, 0.7, 0.8, 0.9, 1, 1.1], "labels": false, "domain": false, "tickSize": 3}}}},
   {"data": {"values": [{}]}, "mark": {"type": "rule", "color": "#000", "strokeWidth": 1.5}, "encoding": {"y": {"datum": 0, "type": "quantitative", "title": null, "scale": {"domain": [-3, 1.436], "nice": false, "zero": false}, "axis": {"orient": "left", "values": [-3, -2.9, -2.8, -2.7, -2.6, -2.5, -2.4, -2.3, -2.2, -2.1, -2, -1.9, -1.8, -1.7, -1.6, -1.5, -1.4, -1.3, -1.2, -1.1, -1, -0.9, -0.8, -0.7, -0.6, -0.5, -0.4, -0.3, -0.2, -0.1, 0, 0.1, 0.2, 0.3, 0.4, 0.5, 0.6, 0.7, 0.8, 0.9, 1, 1.1, 1.2, 1.3, 1.4], "labels": false, "domain": false, "tickSize": 3}}}},
   {"data": {"name": "gR"}, "mark": {"type": "point", "filled": true, "size": 45, "opacity": 1},
    "encoding": {
     "x": {"field": "x", "type": "quantitative", "title": null, "scale": {"domain": [-0.2, 1.2], "nice": false, "zero": false},
      "axis": {"orient": "bottom", "labelOverlap": false, "values": [-0.2, 0, 0.2, 0.4, 0.6, 0.8, 1], "labelExpr": "datum.value + ''", "tickSize": 5}},
     "y": {"field": "v", "type": "quantitative", "title": null, "scale": {"domain": [-3, 1.436], "nice": false, "zero": false},
      "axis": {"orient": "left", "labelOverlap": false, "values": [-3, -2.5, -2, -1.5, -1, -0.5, 0, 0.5, 1], "labelExpr": "datum.value + ''", "tickSize": 5}},
     "color": {"field": "s", "type": "nominal", "scale": {"domain": ["R²", "Q²"], "range": ["#4cae4c", "#3b4cad"]}, "legend": {"title": null, "orient": "none", "legendX": 266.5, "legendY": -7.5, "padding": 0, "labelFontSize": 11, "labelColor": "#000", "symbolSize": 45, "labelOffset": 3, "rowPadding": 2}},
     "shape": {"field": "s", "type": "nominal", "scale": {"domain": ["R²", "Q²"], "range": ["circle", "square"]}, "legend": {"title": null, "orient": "none", "legendX": 266.5, "legendY": -7.5, "padding": 0, "labelFontSize": 11, "labelColor": "#000", "symbolSize": 45, "labelOffset": 3, "rowPadding": 2}}
    }},
   {"data": {"name": "gRL"}, "mark": {"type": "line", "color": "#222", "strokeWidth": 1, "strokeDash": [3, 2]},
    "encoding": {"x": {"field": "x", "type": "quantitative", "scale": {"domain": [-0.2, 1.2], "nice": false, "zero": false}, "axis": null}, "y": {"field": "v", "type": "quantitative", "scale": {"domain": [-3, 1.436], "nice": false, "zero": false}, "axis": null}, "detail": {"field": "s"}}},
   {"data": {"values": [{}]}, "mark": {"type": "point", "shape": "M0,-1L0.6,0.8L-0.6,0.8Z", "filled": true, "color": "#000", "opacity": 1, "size": 90, "yOffset": 4},
    "encoding": {"x": {"datum": -0.2, "type": "quantitative", "scale": {"domain": [-0.2, 1.2], "nice": false, "zero": false}, "axis": null}, "y": {"datum": 1.436, "type": "quantitative", "scale": {"domain": [-3, 1.436], "nice": false, "zero": false}, "axis": null}}},
   {"data": {"values": [{}]}, "mark": {"type": "point", "shape": "M1,0L-0.8,0.6L-0.8,-0.6Z", "filled": true, "color": "#000", "opacity": 1, "size": 90, "xOffset": -3},
    "encoding": {"x": {"datum": 1.2, "type": "quantitative", "scale": {"domain": [-0.2, 1.2], "nice": false, "zero": false}, "axis": null}, "y": {"datum": -3, "type": "quantitative", "scale": {"domain": [-3, 1.436], "nice": false, "zero": false}, "axis": null}}}
  ]
 }
]
}
